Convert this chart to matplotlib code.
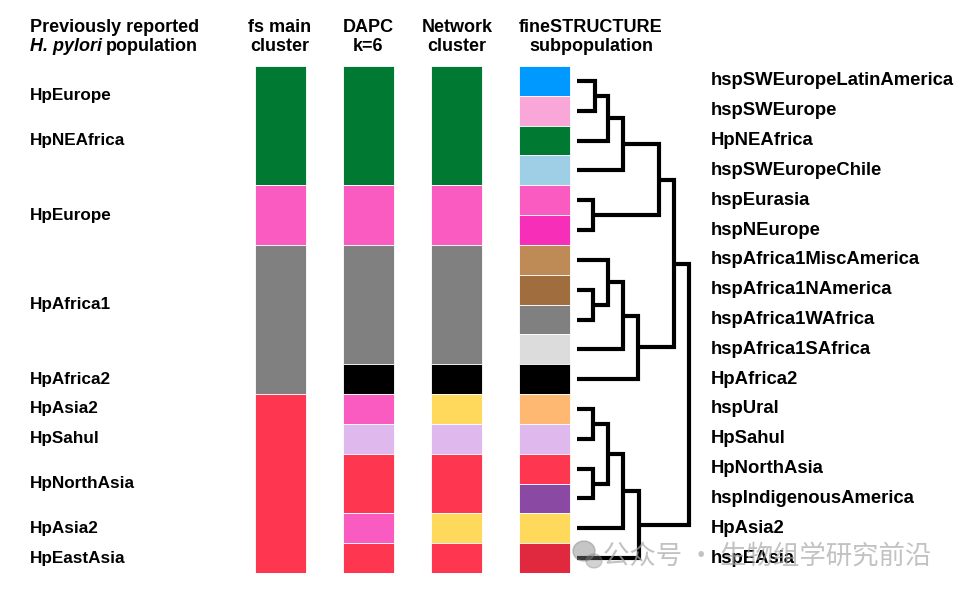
import matplotlib.pyplot as plt
from matplotlib.patches import Ellipse
from itertools import groupby

# ============================================================
# Datos
# ============================================================

subpoblaciones = [
    "hspSWEuropeLatinAmerica", "hspSWEurope", "HpNEAfrica", "hspSWEuropeChile",
    "hspEurasia", "hspNEurope", "hspAfrica1MiscAmerica", "hspAfrica1NAmerica",
    "hspAfrica1WAfrica", "hspAfrica1SAfrica", "HpAfrica2", "hspUral",
    "HpSahul", "HpNorthAsia", "hspIndigenousAmerica", "HpAsia2", "hspEAsia",
]

# colores por fila (17 filas) para cada columna
col_fs_main = ["verde"] * 4 + ["rosa"] * 2 + ["gris"] * 5 + ["rojo"] * 6
col_dapc = (["verde"] * 4 + ["rosa"] * 2 + ["gris"] * 4 + ["negro", "rosa", "lila",
            "rojo", "rojo", "rosa", "rojo"])
col_network = (["verde"] * 4 + ["rosa"] * 2 + ["gris"] * 4 + ["negro", "amarillo", "lila",
               "rojo", "rojo", "amarillo", "rojo"])
col_fine = ["azul", "rosa_claro", "verde", "celeste", "rosa", "magenta", "tostado",
            "cafe", "gris", "gris_claro", "negro", "naranjo", "lila", "rojo",
            "morado", "amarillo", "rojo_osc"]

# poblaciones previamente reportadas: etiqueta y posicion (en filas)
pob_previas = ["HpEurope", "HpNEAfrica", "HpEurope", "HpAfrica1", "HpAfrica2",
               "HpAsia2", "HpSahul", "HpNorthAsia", "HpAsia2", "HpEastAsia"]
pob_previas_pos = [1.0, 2.5, 5.0, 8.0, 10.5, 11.5, 12.5, 14.0, 15.5, 16.5]

# titulos de columnas (dos lineas cada uno)
titulos = [("fs main", "cluster"), ("DAPC", "k=6"), ("Network", "cluster"),
           ("fineSTRUCTURE", "subpopulation")]

# dendrograma: (hijo_a, hijo_b, altura); hojas 0-16, nodos desde 17
uniones = [
    (0, 1, 1.2), (17, 2, 2.05), (18, 3, 3.05), (4, 5, 1.05), (19, 20, 5.4),
    (7, 8, 1.05), (6, 22, 2.05), (23, 9, 3.05), (24, 10, 4.0), (21, 25, 6.4),
    (11, 12, 1.05), (13, 14, 1.05), (27, 28, 2.05), (29, 15, 3.05), (30, 16, 4.05),
    (26, 31, 7.4),
]

paleta = {
    "verde": "#007A33", "rosa": "#FA5BC0", "gris": "#808080", "rojo": "#FF364F",
    "negro": "#000000", "lila": "#DFB8EE", "amarillo": "#FFD95C", "azul": "#0099FF",
    "rosa_claro": "#F9A6D8", "celeste": "#9ECFE6", "magenta": "#F72EB8",
    "tostado": "#BE8A55", "cafe": "#A06E3E", "gris_claro": "#DCDCDC",
    "naranjo": "#FFB872", "morado": "#8A4AA3", "rojo_osc": "#E0283F",
}

# ============================================================
# Figura
# ============================================================

W, H = 960, 596
fig = plt.figure(figsize=(9.6, 5.96), dpi=100)
y_top, y_bot = 66, 573
n = len(subpoblaciones)
ax = fig.add_axes([0, 1 - y_bot / H, 1, (y_bot - y_top) / H])
ax.set_xlim(0, W)
ax.set_ylim(n, 0)
ax.axis("off")

fuente = "Liberation Sans"
y_tit2 = -0.36           # base de la segunda linea de titulos (en filas)
y_tit1 = y_tit2 - 0.66   # primera linea
tam_tit = 13
estilo_tit = dict(va="bottom", fontsize=tam_tit, fontweight="bold", family=fuente,
                  clip_on=False)

columnas = [(255, col_fs_main, 280), (343, col_dapc, 368),
            (431, col_network, 457), (519, col_fine, 591)]
ancho = 51

for (x0, colores, xt), (l1, l2) in zip(columnas, titulos):
    fila = 0
    for c, grupo in groupby(colores):
        k = len(list(grupo))
        ax.barh(fila + k / 2, ancho, left=x0, height=k, color=paleta[c],
                edgecolor="white", linewidth=0.6)
        fila += k
    ax.text(xt, y_tit1, l1, ha="center", **estilo_tit)
    ax.text(xt, y_tit2, l2, ha="center", **estilo_tit)

# titulo izquierdo (con H. pylori en cursiva)
ax.text(30, y_tit1, "Previously reported", ha="left", **estilo_tit)
t_it = ax.text(30, y_tit2, "H. pylori", ha="left", style="italic", **estilo_tit)
fig.canvas.draw()
bb = t_it.get_window_extent().transformed(ax.transData.inverted())
ax.text(bb.x1 + 4, y_tit2, "population", ha="left", **estilo_tit)

for etiqueta, pos in zip(pob_previas, pob_previas_pos):
    ax.text(30, pos, etiqueta, ha="left", va="center", fontsize=12.3,
            fontweight="bold", family=fuente)

for i, etiqueta in enumerate(subpoblaciones):
    ax.text(711, i + 0.5, etiqueta, ha="left", va="center", fontsize=13.3,
            fontweight="bold", family=fuente, zorder=5)

# dendrograma
x_base, escala = 577, 15.2
pos_y = [i + 0.5 for i in range(n)]
alturas = [0.0] * n
for a, b, h in uniones:
    xa = x_base + alturas[a] * escala
    xb = x_base + alturas[b] * escala
    xh = x_base + h * escala
    ax.plot([xa, xh, xh, xb], [pos_y[a], pos_y[a], pos_y[b], pos_y[b]],
            color="black", lw=3.0, solid_capstyle="butt", solid_joinstyle="miter")
    pos_y.append((pos_y[a] + pos_y[b]) / 2)
    alturas.append(h)

# marca de agua
fig.add_artist(Ellipse((584 / W, 1 - 551 / H), 22 / W, 20 / H, transform=fig.transFigure,
                       color="#808080", alpha=0.45, zorder=1))
fig.add_artist(Ellipse((594 / W, 1 - 561 / H), 16 / W, 14 / H, transform=fig.transFigure,
                       color="#808080", alpha=0.35, zorder=1))
fig.text(603 / W, 1 - 556 / H, "公众号 · 生物组学研究前沿", ha="left", va="center",
         fontsize=19, color="#A8A8A8", alpha=0.7,
         family=["Noto Sans CJK SC", "DejaVu Sans"], zorder=1)

fig.savefig("out.png", dpi=100)
